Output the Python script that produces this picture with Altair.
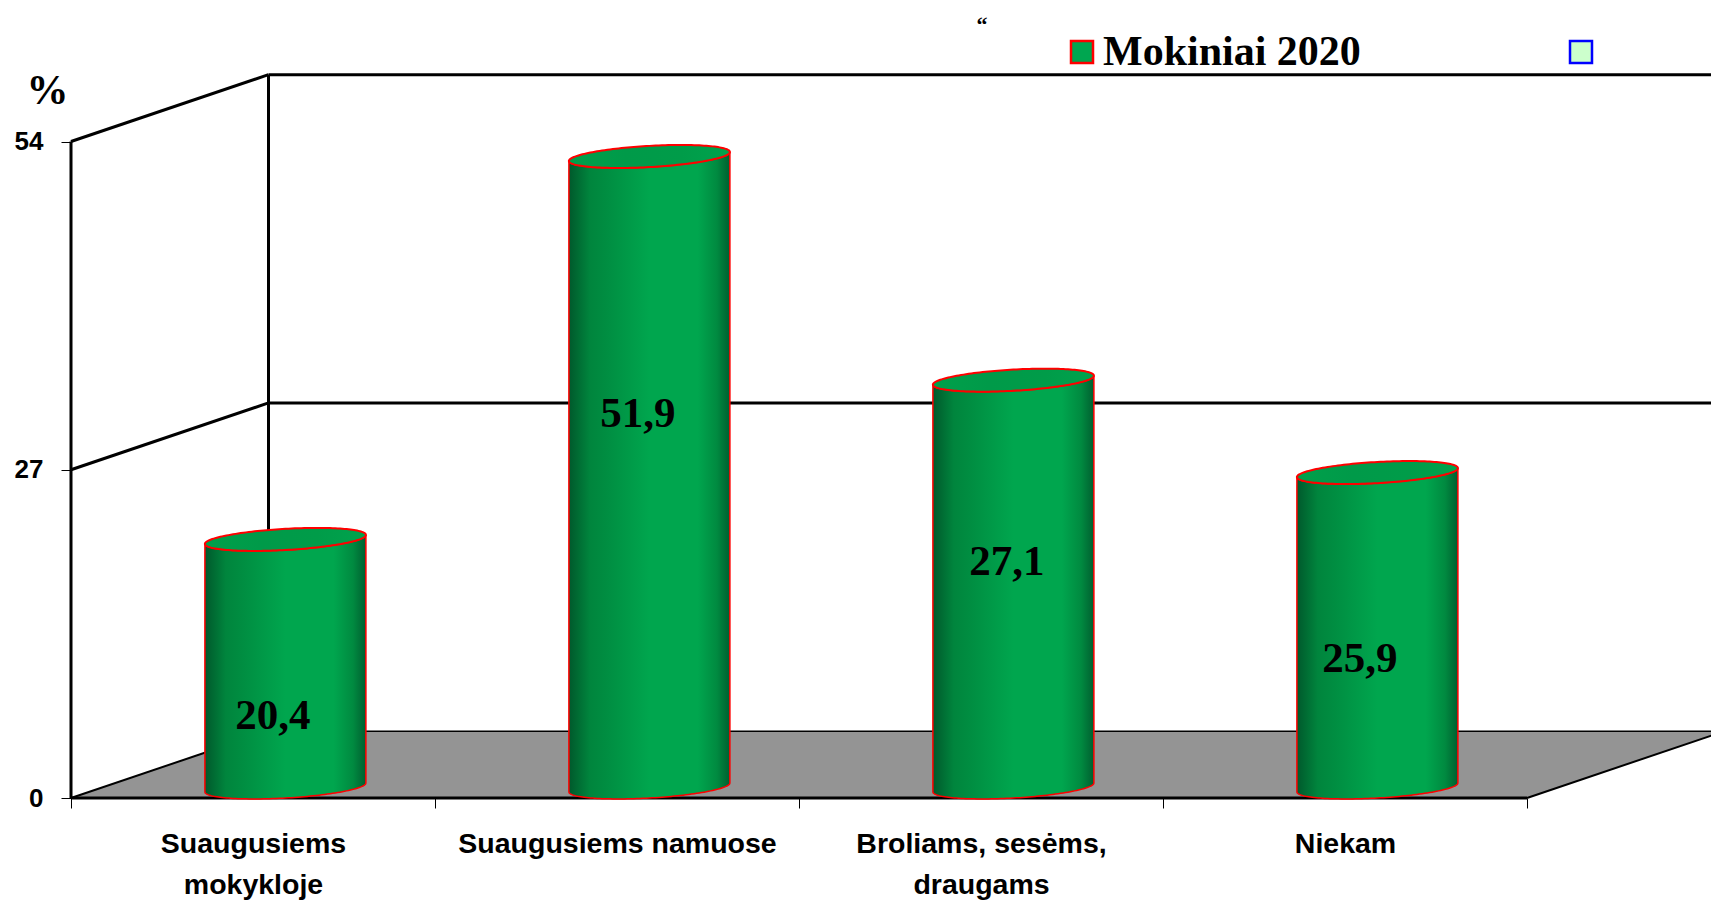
import json
import numpy as np
import pandas as pd
import altair as alt

categories = ["Suaugusiems|mokykloje", "Suaugusiems namuose", "Broliams, sesėms,|draugams", "Niekam"]
drawn_heights = [20.4, 51.9, 33.5, 25.9]
value_labels = ["20,4", "51,9", "27,1", "25,9"]
y_ticks = [0, 27, 54]
series_names = ["Mokiniai 2020", "\u00a0"]

# page geometry helpers (px per data unit)
PX_X = 364.0
PX_Y = 12.157
PLOT_W = 1640
PLOT_H = 897
BELOW_AXIS = PLOT_H - 790
X_MAX = PLOT_W / PX_X
Y_TOP = 790 / PX_Y
Y_BOT = -BELOW_AXIS / PX_Y
DX = 197.5 / PX_X      # depth of the 3D box
DY = 5.5

x_scale = alt.Scale(domain=[0, X_MAX], nice=False, zero=False)
y_scale = alt.Scale(domain=[Y_BOT, Y_TOP], nice=False, zero=False)

x_axis = alt.Axis(
    title=None,
    values=[0, 1, 2, 3, 4], offset=-BELOW_AXIS, domain=False, grid=False,
    tickSize=10, tickWidth=1, tickColor="black",
    labelOffset=PX_X / 2, labelPadding=21, labelFontSize=28.5, labelFont="Liberation Sans", labelFontWeight="bold",
    labelColor="black", labelAlign="center", labelBaseline="top", labelLineHeight=41, labelLimit=500,
    labelBound=False, labelFlush=False, labelOverlap=False, labelAngle=0,
    labelExpr="split((" + json.dumps(categories, ensure_ascii=False) + "[datum.value] || ''), '|')",
)
y_axis = alt.Axis(
    values=y_ticks, domain=False, grid=False, tickSize=10, tickWidth=1, tickColor="black",
    labelPadding=18, labelFontSize=26, labelFont="Liberation Sans", labelFontWeight="bold", labelColor="black",
    title="%", titleAngle=0, titleFont="Liberation Serif", titleFontWeight="bold", titleFontSize=42,
    titleColor="black", titleX=-24, titleY=82, titleAlign="center", titleBaseline="middle",
)
X = lambda: alt.X("x:Q", scale=x_scale, axis=x_axis)
Y = lambda: alt.Y("y:Q", scale=y_scale, axis=y_axis)

# floor
floor = pd.DataFrame({
    "x": [0, DX, 4, 4 + DX],
    "y": [0, DY, DY, DY],
    "y2": [0, 0, 0, DY],
})
floor_layer = alt.Chart(floor).mark_area(color="#949494", clip=True).encode(X(), Y(), y2="y2:Q")

# frame lines: (x0, y0, x1, y1, width)
segments = []
for lvl in y_ticks[1:]:
    segments += [(0, lvl, DX, lvl + DY, 3), (DX, lvl + DY, X_MAX, lvl + DY, 3)]
segments += [
    (0, 0, 0, 54, 3),
    (DX, DY, DX, 54 + DY, 3),
    (0, 0, DX, DY, 2),
    (DX, DY, X_MAX, DY, 1.5),
    (4, 0, 4 + DX, DY, 2),
    (0, 0, 4, 0, 3),
]
rows = []
for i, (x0, y0, x1, y1, w) in enumerate(segments):
    rows += [dict(x=x0, y=y0, seg=i, w=w), dict(x=x1, y=y1, seg=i, w=w)]
frame = alt.Chart(pd.DataFrame(rows)).mark_line(color="black", strokeCap="butt").encode(
    X(), Y(),
    detail="seg:N",
    strokeWidth=alt.StrokeWidth("w:Q", scale=None),
)

body_grad = alt.Gradient(gradient="linear", x1=0, x2=1, y1=0, y2=0, stops=[
    alt.GradientStop(offset=0, color="#00592c"),
    alt.GradientStop(offset=0.13, color="#00853d"),
    alt.GradientStop(offset=0.25, color="#008f42"),
    alt.GradientStop(offset=0.5, color="#00a64e"),
    alt.GradientStop(offset=0.8, color="#00a64e"),
    alt.GradientStop(offset=0.92, color="#008a40"),
    alt.GradientStop(offset=1, color="#005f30"),
])
cap_grad = alt.Gradient(gradient="linear", x1=0, x2=1, y1=0, y2=0, stops=[
    alt.GradientStop(offset=0, color="#00a04b"),
    alt.GradientStop(offset=0.35, color="#009a49"),
    alt.GradientStop(offset=0.7, color="#009c49"),
    alt.GradientStop(offset=1, color="#00a34d"),
])

HALF_W = 80.5 / PX_X
SHEAR = 4.5 / PX_Y
MINOR = 10.6 / PX_Y
BASE = 0.87
t = np.linspace(np.pi, 0, 81)

cyl_layers = []
label_layers = []
ticks = []
label_shift = [(-12.5, 52.6), (-11.5, -58), (-6.5, -21.8), (-17.5, 29)]
for i, v in enumerate(drawn_heights):
    xc = i + 0.589
    xs = xc + HALF_W * np.cos(t)
    top = v + BASE
    tilt = SHEAR * np.cos(t)
    bow = MINOR * np.sin(t)
    body = pd.DataFrame({"x": xs, "y": top + tilt - bow, "y2": BASE + tilt - bow})
    cap = pd.DataFrame({"x": xs, "y": top + tilt + bow, "y2": top + tilt - bow})
    cyl_layers.append(alt.Chart(body).mark_area(fill=body_grad, stroke="#ff0000", strokeWidth=1.5).encode(
        X(), Y(), y2="y2:Q"))
    cyl_layers.append(alt.Chart(cap).mark_area(fill=cap_grad, stroke="#ff0000", strokeWidth=2).encode(
        X(), Y(), y2="y2:Q"))
    sx, sy = label_shift[i]
    label_layers.append(alt.Chart(pd.DataFrame({"x": [xc], "y": [BASE + v / 2], "t": [value_labels[i]]})).mark_text(
        font="Liberation Serif", fontWeight="bold", fontSize=43, color="black", baseline="middle",
        align="center", dx=sx, dy=sy,
    ).encode(X(), Y(), text="t:N"))
    ticks.append({"x": i + 0.5, "y": 0, "y2": 0.25})

specks = alt.Chart(pd.DataFrame(ticks)).mark_rule(color="#ff0000", strokeWidth=3).encode(X(), Y(), y2="y2:Q")

legend_opts = dict(
    title=None, orient="none", legendX=990, legendY=23, columns=2, columnPadding=199,
    symbolType="square", symbolSize=484, symbolStrokeWidth=2.5, symbolOpacity=1,
    labelFont="Liberation Serif", labelFontWeight="bold", labelFontSize=42, labelColor="black",
    labelOffset=0, padding=0, rowPadding=0, labelLimit=400,
)
legend_src = alt.Chart(pd.DataFrame({"s": series_names})).mark_square(size=0, filled=True, opacity=1).encode(
    fill=alt.Fill("s:N", scale=alt.Scale(domain=series_names, range=["#00a650", "#ccffcc"]),
                  legend=alt.Legend(**legend_opts)),
    stroke=alt.Stroke("s:N", scale=alt.Scale(domain=series_names, range=["#ff0000", "#0000ff"]),
                      legend=alt.Legend(**legend_opts)),
)

quote = alt.Chart(pd.DataFrame({"x": [(982 - 71) / PX_X], "y": [(798 - 25) / PX_Y], "t": ["\u201c"]})).mark_text(
    font="Liberation Serif", fontWeight="bold", fontSize=22, color="black", align="center", baseline="middle",
).encode(X(), Y(), text="t:N")

chart = alt.layer(
    floor_layer, frame, specks, *cyl_layers, *label_layers, quote, legend_src
).properties(
    width=PLOT_W, height=PLOT_H,
    padding={"left": 63, "top": 0, "right": 0, "bottom": 0},
    autosize=alt.AutoSizeParams(type="none"),
    background="white",
).configure_view(stroke=None)

chart.save("out.html", embed_options={"renderer": "svg", "actions": False})
